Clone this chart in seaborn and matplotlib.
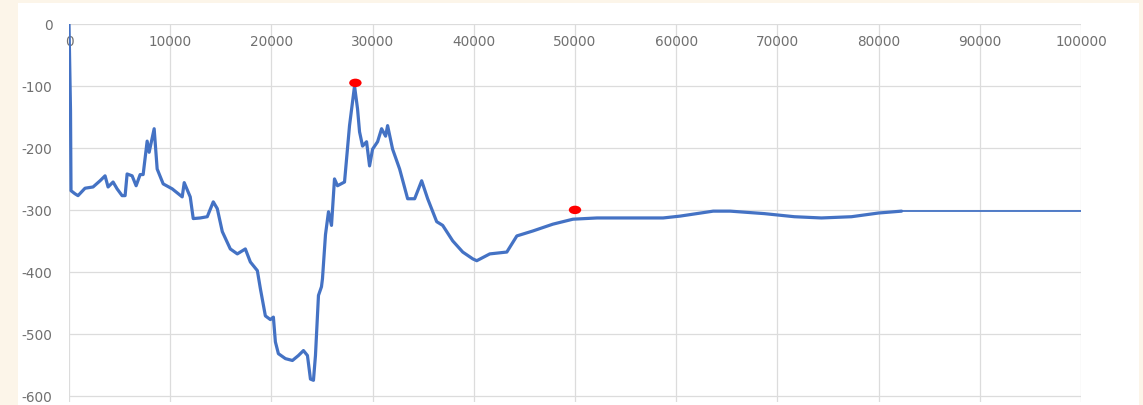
import matplotlib
matplotlib.use("Agg")
import matplotlib.pyplot as plt
from matplotlib.patches import Rectangle
from matplotlib.path import Path
from matplotlib.transforms import Affine2D
import pandas as pd
import seaborn as sns

# Main trace (position vs. value)
trace_x = [0, 150, 198, 594, 891, 1584, 2376, 3069, 3564, 3861, 4356, 4752, 5247,
           5544, 5742, 6237, 6633, 7029, 7326, 7722, 7920, 8415, 8712, 9306,
           10197, 11187, 11385, 11979, 12276, 12969, 13662, 14256, 14652, 15147,
           15939, 16632, 17424, 17919, 18612, 18909, 19404, 19899, 20196, 20394,
           20691, 21384, 22077, 22671, 23166, 23562, 23859, 24156, 24354, 24651,
           24948, 25047, 25344, 25641, 25938, 26235, 26532, 27225, 27720, 28215,
           28512, 28710, 29007, 29403, 29700, 29997, 30492, 30888, 31284, 31482,
           31977, 32670, 33462, 34155, 34848, 35442, 36333, 36927, 37917, 38907,
           39897, 40293, 41580, 43263, 44253, 45837, 47817, 49797, 52173, 55440,
           58707, 60390, 63657, 65340, 68706, 71676, 74350, 77319, 80000, 82269]
trace_y = [0, -140, -269, -274, -277, -265, -263, -253, -245, -263, -255, -266, -277,
           -277, -242, -245, -261, -243, -243, -189, -207, -169, -234, -258,
           -266, -279, -256, -279, -314, -313, -311, -287, -298, -335,
           -363, -371, -363, -384, -398, -427, -471, -477, -473, -513,
           -532, -540, -543, -535, -527, -535, -573, -575, -535, -438,
           -424, -411, -340, -303, -325, -250, -261, -255, -164, -100,
           -137, -174, -197, -190, -229, -202, -190, -169, -181, -164,
           -202, -234, -282, -282, -253, -282, -319, -325, -350, -368,
           -379, -382, -371, -368, -342, -334, -323, -315, -313, -313,
           -313, -310, -302, -302, -306, -311, -313, -311, -305, -302]

# Flat continuation to the end of the range
tail_x = [82269, 100000]
tail_y = [-302, -302]

# Highlighted points
marker_x = [28300, 50000]
marker_y = [-95, -300]

x_ticks = [0, 10000, 20000, 30000, 40000, 50000, 60000, 70000, 80000, 90000, 100000]
y_ticks = [0, -100, -200, -300, -400, -500, -600]

sns.set_theme(style="white")
plt.rcParams["font.family"] = ["DejaVu Sans"]
plt.rcParams["axes.unicode_minus"] = False

W, H = 1143, 406
fig = plt.figure(figsize=(W / 100, H / 100), dpi=100)
fig.patch.set_facecolor("#fcf5e9")

# White chart panel behind the axes
fig.patches.append(Rectangle((18 / W, 0), (1139 - 18) / W, (H - 4) / H,
                             transform=fig.transFigure, facecolor="white",
                             edgecolor="none", zorder=-10))

left, right, top, bottom = 69, 1081, 25, 403
ax = fig.add_axes([left / W, (H - bottom) / H, (right - left) / W, (bottom - top) / H])
ax.set_zorder(5)
ax.set_facecolor("none")

line_color = "#4472c4"
trace = pd.DataFrame({"x": trace_x, "y": trace_y})
tail = pd.DataFrame({"x": tail_x, "y": tail_y})
marks = pd.DataFrame({"x": marker_x, "y": marker_y})

# Slightly flattened dot marker
oval = Path.unit_circle().transformed(Affine2D().scale(1.0, 0.68))

sns.lineplot(data=trace, x="x", y="y", sort=False, estimator=None, ax=ax,
             color=line_color, linewidth=2.3, zorder=3)
sns.lineplot(data=tail, x="x", y="y", sort=False, estimator=None, ax=ax,
             color=line_color, linewidth=1.3, zorder=3)
sns.scatterplot(data=marks, x="x", y="y", ax=ax, color="#ff0000", s=80,
                marker=oval, edgecolor="none", zorder=4)

ax.set_xlim(0, 100000)
ax.set_ylim(-610, 0)
ax.set_xticks(x_ticks)
ax.set_yticks(y_ticks)
ax.set_xticklabels([str(v) for v in x_ticks])
ax.set_yticklabels([str(v) for v in y_ticks])
ax.set_xlabel("")
ax.set_ylabel("")

ax.grid(True, color="#dcdcdc", linewidth=0.9)
ax.set_axisbelow(True)
for s in ax.spines.values():
    s.set_visible(False)

ax.xaxis.tick_top()
ax.tick_params(axis="x", length=0, labelsize=9.8, labelcolor="#707070", pad=-17.5,
               top=False, labeltop=True, bottom=False, labelbottom=False)
ax.tick_params(axis="y", length=0, labelsize=9.8, labelcolor="#707070", pad=12)

fig.savefig("out.png", dpi=100, facecolor=fig.get_facecolor())
